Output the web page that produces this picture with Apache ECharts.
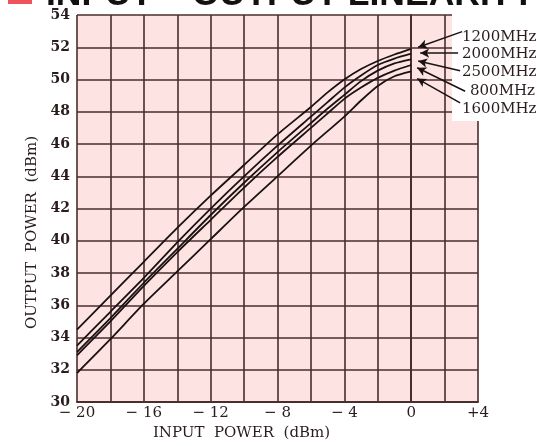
<!DOCTYPE html>
<html>
<head>
<meta charset="utf-8">
<script src="https://cdn.jsdelivr.net/npm/echarts@6/dist/echarts.min.js"></script>
<style>
  html, body { margin: 0; padding: 0; background: #fff; }
  #chart { width: 537px; height: 446px; }
</style>
</head>
<body>
<div id="chart"></div>
<script>
const inputPower = [-20, -18, -16, -14, -12, -10, -8, -6, -5, -4, -3, -2, -1, 0];
const out1200 = [34.5, 36.6, 38.7, 40.8, 42.8, 44.7, 46.6, 48.3, 49.2, 50.0, 50.65, 51.15, 51.55, 51.9];
const out2000 = [33.5, 35.6, 37.7, 39.9, 42.0, 44.0, 45.9, 47.7, 48.6, 49.5, 50.25, 50.9, 51.3, 51.6];
const out2500 = [33.1, 35.2, 37.4, 39.5, 41.6, 43.6, 45.5, 47.3, 48.2, 49.05, 49.9, 50.55, 51.0, 51.25];
const out800 = [32.9, 35.0, 37.2, 39.3, 41.3, 43.3, 45.2, 47.0, 47.9, 48.8, 49.5, 50.1, 50.55, 50.9];
const out1600 = [31.8, 33.9, 36.1, 38.1, 40.1, 42.1, 44.0, 45.9, 46.8, 47.7, 48.7, 49.6, 50.2, 50.5];
const seriesNames = ["1200MHz", "2000MHz", "2500MHz", "800MHz", "1600MHz"];
// arrow start (at the label) and end (at the curve tip), in dBm
const arrowFrom = [[3.05, 52.97], [2.81, 51.64], [2.93, 50.55], [3.23, 49.27], [2.93, 48.55]];
const arrowTo = [[0.42, 52.0], [0.54, 51.64], [0.42, 51.15], [0.36, 50.73], [0.36, 50.06]];

const ink = "#2a1c1c";
const gridColor = "#4a2e2e";
const serif = "DejaVu Serif";

const chart = echarts.init(document.getElementById("chart"));

const allSeries = [out1200, out2000, out2500, out800, out1600].map((vals, i) => ({
  name: seriesNames[i],
  type: "line",
  smooth: 0.2,
  symbol: "none",
  lineStyle: { color: "#1a1212", width: 1.8 },
  data: inputPower.map((x, j) => [x, vals[j]]),
  z: 3,
}));

// arrows from labels to curve tips
allSeries.push({
  type: "line",
  data: [],
  markLine: {
    silent: true,
    symbol: ["none", "arrow"],
    symbolSize: [7, 9],
    label: { show: false },
    lineStyle: { color: "#1a1212", width: 1.5, type: "solid" },
    data: arrowFrom.map((p, i) => [{ coord: p }, { coord: arrowTo[i] }]),
  },
  z: 4,
});

const labelY = [37, 54, 72, 91, 109];
const labelX = [462, 462, 462, 470, 462];

const option = {
  animation: false,
  backgroundColor: "#fff",
  grid: { left: 77, right: 59, top: 15, bottom: 35, show: true, backgroundColor: "#fde3e1", borderWidth: 0 },
  xAxis: {
    type: "value",
    min: -20,
    max: 4,
    interval: 2,
    name: "INPUT  POWER  (dBm)",
    nameLocation: "middle",
    nameGap: 21,
    nameTextStyle: { fontFamily: serif, fontSize: 15, color: ink, padding: [0, 72, 0, 0] },
    axisLine: { show: true, lineStyle: { color: gridColor, width: 2 } },
    axisTick: { show: false },
    axisLabel: {
      margin: 4,
      fontFamily: serif,
      fontSize: 15,
      color: ink,
      formatter: (v) => {
        if (v % 4 !== 0) return "";
        if (v < 0) return "\u2212 " + (-v);
        if (v > 0) return "+" + v;
        return "0";
      },
    },
    splitLine: { show: true, lineStyle: { color: gridColor, width: 1.6 } },
  },
  yAxis: {
    type: "value",
    min: 30,
    max: 54,
    interval: 2,
    name: "OUTPUT  POWER  (dBm)",
    nameLocation: "middle",
    nameGap: 35,
    nameTextStyle: { fontFamily: serif, fontSize: 15, color: ink, padding: [0, 48, 0, 0] },
    axisLine: { show: true, lineStyle: { color: gridColor, width: 2 } },
    axisTick: { show: false },
    axisLabel: { margin: 7, fontFamily: serif, fontSize: 14, fontWeight: "bold", color: ink },
    splitLine: { show: true, lineStyle: { color: gridColor, width: 1.6 } },
  },
  graphic: [
    { type: "rect", z: 1, shape: { x: 452, y: 13, width: 90, height: 108 }, style: { fill: "#fff" } },
    { type: "rect", z: 10, shape: { x: 8, y: 0, width: 24, height: 4 }, style: { fill: "#f0545a" } },
    {
      type: "text", z: 10, left: 46, top: -23,
      style: { text: "INPUT \u2013 OUTPUT LINEARITY", font: "bold 35.5px 'Liberation Sans'", fill: "#111" },
    },
  ].concat(seriesNames.map((n, i) => ({
    type: "text", z: 10, x: labelX[i], y: labelY[i],
    style: { text: n, font: "15px 'DejaVu Serif'", fill: ink, verticalAlign: "middle" },
  }))),
  series: allSeries,
};

chart.setOption(option);
window.onresize = function () {
  chart.resize();
};
</script>
</body>
</html>
